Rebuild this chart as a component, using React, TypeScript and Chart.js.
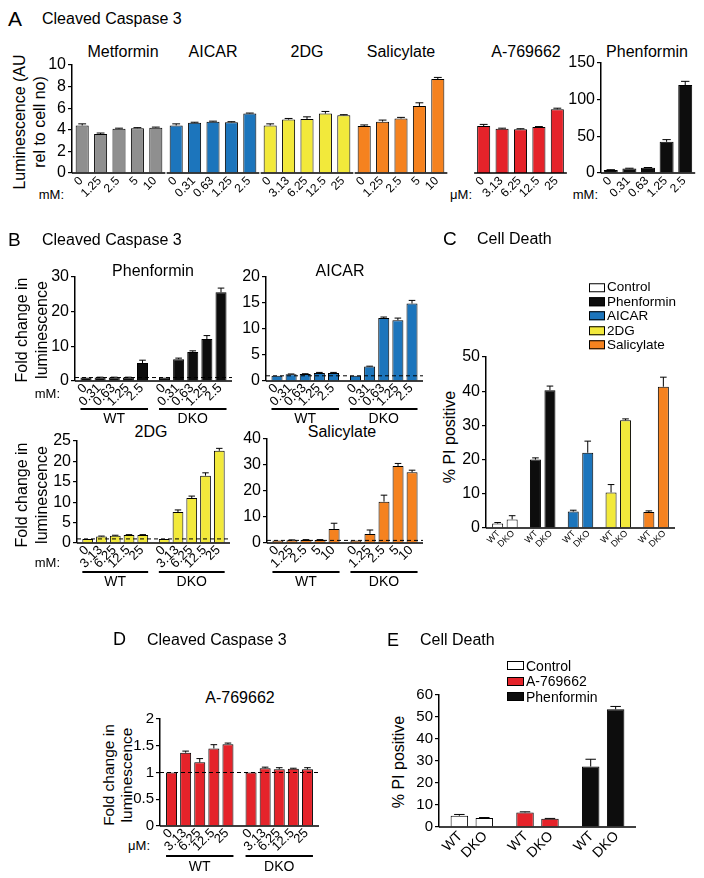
import React, { useEffect, useRef } from 'react';
import { Chart, registerables } from 'chart.js';

Chart.register(...registerables);

const FONT = "'Liberation Sans', Arial, Helvetica, sans-serif";

// ---------- colours (style) ----------
const GRAY = '#8f8f8f';
const BLUE = '#1c75bc';
const YELLOW = '#f2e93b';
const ORANGE = '#f5821f';
const RED = '#e5232a';
const BLACK = '#0d0d0d';
const WHITE = '#ffffff';

// ---------- dose tick labels ----------
const metforminDosesMM = ['0', '1.25', '2.5', '5', '10'];
const aicarDosesMM = ['0', '0.31', '0.63', '1.25', '2.5'];
const twoDGDosesMM = ['0', '3.13', '6.25', '12.5', '25'];
const salicylateDosesMM = ['0', '1.25', '2.5', '5', '10'];
const a769DosesUM = ['0', '3.13', '6.25', '12.5', '25'];
const phenforminDosesMM = ['0', '0.31', '0.63', '1.25', '2.5'];
const genotypes = ['WT', 'DKO'];

// ---------- Panel A: luminescence (AU rel to cell no) ----------
const aMetformin = [4.4, 3.6, 4.1, 4.15, 4.2];
const aMetforminErr = [0.15, 0.1, 0.05, 0.05, 0.05];
const aAicar = [4.4, 4.65, 4.75, 4.7, 5.5];
const aAicarErr = [0.15, 0.05, 0.05, 0.05, 0.05];
const aTwoDG = [4.4, 4.95, 5.0, 5.5, 5.35];
const aTwoDGErr = [0.15, 0.1, 0.2, 0.2, 0.05];
const aSalicylate = [4.35, 4.75, 5.05, 6.2, 8.7];
const aSalicylateErr = [0.1, 0.15, 0.1, 0.3, 0.15];
const aA769 = [4.35, 4.1, 4.05, 4.25, 5.9];
const aA769Err = [0.15, 0.05, 0.05, 0.05, 0.1];
const aPhenformin = [4, 6, 7, 42.5, 120];
const aPhenforminErr = [0.5, 0.5, 0.5, 3, 5];

// ---------- Panel B: fold change in luminescence ----------
const bPhenWT = [1, 1, 1, 1, 5.2];
const bPhenWTErr = [0, 0.1, 0.1, 0.1, 0.8];
const bPhenDKO = [1, 6.3, 8.4, 12.1, 25.6];
const bPhenDKOErr = [0, 0.3, 0.3, 1.0, 1.2];
const bAicarWT = [1, 1.3, 1.35, 1.55, 1.55];
const bAicarWTErr = [0, 0.05, 0.05, 0.1, 0.1];
const bAicarDKO = [1, 2.8, 12.1, 11.7, 14.9];
const bAicarDKOErr = [0, 0.05, 0.2, 0.4, 0.6];
const bTwoDGWT = [1, 1.6, 1.8, 1.95, 1.95];
const bTwoDGWTErr = [0, 0.1, 0.1, 0.1, 0.1];
const bTwoDGDKO = [1, 7.6, 11, 16.5, 22.6];
const bTwoDGDKOErr = [0, 0.5, 0.5, 0.7, 0.6];
const bSalWT = [1, 1.1, 1.2, 1.2, 5.4];
const bSalWTErr = [0, 0.1, 0.1, 0.1, 2.2];
const bSalDKO = [1, 3.5, 15.9, 29.6, 27.2];
const bSalDKOErr = [0, 1.5, 2.5, 1.0, 0.8];

// ---------- Panel C: % PI positive ----------
const cTreatments = ['Control', 'Phenformin', 'AICAR', '2DG', 'Salicylate'];
const cColors = [WHITE, BLACK, BLUE, YELLOW, ORANGE];
const cWT = [1.3, 20, 4.8, 10.4, 4.7];
const cWTErr = [0.3, 0.5, 0.4, 2.3, 0.3];
const cDKO = [2.5, 40.3, 22, 31.5, 41.3];
const cDKOErr = [1.1, 1.2, 3.4, 0.4, 2.8];

// ---------- Panel D: fold change, A-769662 ----------
const dWT = [1, 1.37, 1.19, 1.45, 1.53];
const dWTErr = [0, 0.03, 0.07, 0.07, 0.02];
const dDKO = [1, 1.08, 1.06, 1.07, 1.06];
const dDKOErr = [0, 0.02, 0.03, 0.01, 0.03];

// ---------- Panel E: % PI positive ----------
const eTreatments = ['Control', 'A-769662', 'Phenformin'];
const eColors = [WHITE, RED, BLACK];
const eWT = [5.1, 6.6, 27.5];
const eWTErr = [0.6, 0.3, 3.3];
const eDKO = [4.1, 3.7, 53.5];
const eDKOErr = [0.2, 0.2, 1.3];

type Group = { name: string; values: number[]; errors: number[]; labels: string[]; color: string };
type Spec = {
  plot: { l: number; t: number; r: number; b: number };
  groups: Group[];
  yAxis: boolean;
  yMax: number;
  yStep: number;
  yFont: number;
  mL: number;
  catPct: number;
  barPct: number;
  labelFont: number;
  ldx: number;
  ldy: number;
  axisMode: 'segments' | 'full';
  refLine?: number;
  groupLine?: { dy: number; textDy: number; font: number };
};

const MT = 14;
const MR = 6;
const MB = 62;

function genotypeGroups(wt: number[], wtErr: number[], dko: number[], dkoErr: number[], doses: string[], color: string): Group[] {
  return [
    { name: genotypes[0], values: wt, errors: wtErr, labels: doses, color },
    { name: genotypes[1], values: dko, errors: dkoErr, labels: doses, color },
  ];
}

function treatmentGroups(names: string[], colors: string[], wt: number[], wtErr: number[], dko: number[], dkoErr: number[]): Group[] {
  return names.map((name, i) => ({
    name,
    values: [wt[i], dko[i]],
    errors: [wtErr[i], dkoErr[i]],
    labels: genotypes,
    color: colors[i],
  }));
}

function makePlugin(s: Spec) {
  return {
    id: 'annot',
    afterDatasetsDraw(chart: any) {
      const ctx = chart.ctx;
      const ys = chart.scales.y;
      const area = chart.chartArea;
      ctx.save();
      ctx.strokeStyle = '#000';
      ctx.lineWidth = 1;
      chart.data.datasets.forEach((_ds: any, di: number) => {
        const meta = chart.getDatasetMeta(di);
        meta.data.forEach((bar: any, i: number) => {
          const e = s.groups[i].errors[di];
          if (!e) return;
          const yTop = ys.getPixelForValue(s.groups[i].values[di] + e);
          const half = (bar.width * 0.6) / 2;
          ctx.beginPath();
          ctx.moveTo(bar.x, bar.y);
          ctx.lineTo(bar.x, yTop);
          ctx.moveTo(bar.x - half, yTop);
          ctx.lineTo(bar.x + half, yTop);
          ctx.stroke();
        });
      });
      if (s.refLine != null) {
        const yy = ys.getPixelForValue(s.refLine);
        ctx.setLineDash([4, 3]);
        ctx.beginPath();
        ctx.moveTo(area.left, yy);
        ctx.lineTo(area.right, yy);
        ctx.stroke();
        ctx.setLineDash([]);
      }
      ctx.restore();
    },
    afterDraw(chart: any) {
      const ctx = chart.ctx;
      const area = chart.chartArea;
      const nSets = chart.data.datasets.length;
      ctx.save();
      ctx.strokeStyle = '#000';
      ctx.fillStyle = '#000';
      ctx.lineWidth = 1.5;
      if (s.axisMode === 'full') {
        ctx.beginPath();
        ctx.moveTo(area.left, area.bottom);
        ctx.lineTo(area.right, area.bottom);
        ctx.stroke();
      }
      s.groups.forEach((g, i) => {
        const first = chart.getDatasetMeta(0).data[i];
        const last = chart.getDatasetMeta(nSets - 1).data[i];
        const gl = first.x - first.width / 2;
        const gr = last.x + last.width / 2;
        if (s.axisMode === 'segments') {
          const sl = i === 0 && s.yAxis ? area.left : gl - 3;
          ctx.beginPath();
          ctx.moveTo(sl, area.bottom);
          ctx.lineTo(gr + 3, area.bottom);
          ctx.stroke();
        }
        if (s.groupLine) {
          ctx.lineWidth = 2;
          ctx.beginPath();
          ctx.moveTo(gl, area.bottom + s.groupLine.dy);
          ctx.lineTo(gr, area.bottom + s.groupLine.dy);
          ctx.stroke();
          ctx.lineWidth = 1.5;
          ctx.font = `${s.groupLine.font}px ${FONT}`;
          ctx.textAlign = 'center';
          ctx.textBaseline = 'middle';
          ctx.fillText(g.name, (gl + gr) / 2, area.bottom + s.groupLine.textDy);
        }
      });
      ctx.font = `${s.labelFont}px ${FONT}`;
      ctx.textAlign = 'right';
      ctx.textBaseline = 'middle';
      for (let di = 0; di < nSets; di++) {
        const meta = chart.getDatasetMeta(di);
        meta.data.forEach((bar: any, i: number) => {
          ctx.save();
          ctx.translate(bar.x + s.ldx, area.bottom + s.ldy);
          ctx.rotate(-Math.PI / 4);
          ctx.fillText(s.groups[i].labels[di], 0, 0);
          ctx.restore();
        });
      }
      ctx.restore();
    },
  };
}

function buildConfig(s: Spec): any {
  const n = s.groups[0].values.length;
  const datasets = Array.from({ length: n }, (_, j) => ({
    data: s.groups.map((g) => g.values[j]),
    backgroundColor: s.groups.map((g) => g.color),
    borderColor: '#000',
    borderWidth: 1,
    categoryPercentage: s.catPct,
    barPercentage: s.barPct,
  }));
  const yScale: any = {
    display: s.yAxis,
    min: 0,
    max: s.yMax,
    ticks: {
      stepSize: s.yStep,
      autoSkip: false,
      color: '#000',
      font: { family: FONT, size: s.yFont },
      padding: 2,
      callback: (v: any) => `${v}`,
    },
    grid: { drawOnChartArea: false, drawTicks: true, tickLength: 4, color: '#000', lineWidth: 1.2 },
    border: { display: true, color: '#000', width: 1.5 },
  };
  if (s.yAxis) {
    yScale.afterFit = (sc: any) => {
      sc.width = s.mL;
    };
  }
  return {
    type: 'bar',
    data: { labels: s.groups.map((g) => g.name), datasets },
    options: {
      responsive: false,
      animation: false,
      devicePixelRatio: 1,
      layout: { padding: { left: s.yAxis ? 0 : s.mL, right: MR, top: MT, bottom: MB } },
      plugins: { legend: { display: false }, tooltip: { enabled: false }, title: { display: false } },
      scales: {
        x: { display: false, grid: { display: false } },
        y: yScale,
      },
    },
    plugins: [makePlugin(s)],
  };
}

function BarChart({ spec }: { spec: Spec }) {
  const ref = useRef<HTMLCanvasElement>(null);
  useEffect(() => {
    const chart = new Chart(ref.current as HTMLCanvasElement, buildConfig(spec));
    return () => chart.destroy();
  }, []);
  const { l, t, r, b } = spec.plot;
  const left = l - spec.mL;
  const top = t - MT;
  const w = Math.round(r - l + spec.mL + MR);
  const h = Math.round(b - t + MT + MB);
  return (
    <canvas
      ref={ref}
      width={w}
      height={h}
      style={{ position: 'absolute', left, top, width: w, height: h }}
    />
  );
}

function Txt({ x, y, size, children, align = 'left' }: { x: number; y: number; size: number; children: any; align?: string }) {
  const transform =
    align === 'center' ? 'translate(-50%,-50%)' : align === 'right' ? 'translate(-100%,-50%)' : 'translateY(-50%)';
  return (
    <div style={{ position: 'absolute', left: x, top: y, fontSize: size, lineHeight: 1, whiteSpace: 'nowrap', transform }}>
      {children}
    </div>
  );
}

function VTitle({ x, y, size, lines, lh }: { x: number; y: number; size: number; lines: string[]; lh: number }) {
  return (
    <div
      style={{
        position: 'absolute',
        left: x,
        top: y,
        transform: 'translate(-50%,-50%) rotate(-90deg)',
        fontSize: size,
        lineHeight: `${lh}px`,
        textAlign: 'center',
        whiteSpace: 'nowrap',
      }}
    >
      {lines.map((s, i) => (
        <div key={i}>{s}</div>
      ))}
    </div>
  );
}

function Legend({ x, y0, dy, names, colors, boxW, boxH, size }: { x: number; y0: number; dy: number; names: string[]; colors: string[]; boxW: number; boxH: number; size: number }) {
  return (
    <>
      {names.map((name, i) => (
        <div
          key={name}
          style={{
            position: 'absolute',
            left: x,
            top: y0 + i * dy,
            transform: 'translateY(-50%)',
            display: 'flex',
            alignItems: 'center',
            fontSize: size,
            lineHeight: 1,
            whiteSpace: 'nowrap',
          }}
        >
          <span
            style={{
              display: 'inline-block',
              width: boxW,
              height: boxH,
              background: colors[i],
              border: '1px solid #000',
              boxSizing: 'border-box',
              marginRight: 2,
            }}
          />
          {name}
        </div>
      ))}
    </>
  );
}

const specA1: Spec = {
  plot: { l: 72, t: 65, r: 448, b: 173 },
  groups: [
    { name: 'Metformin', values: aMetformin, errors: aMetforminErr, labels: metforminDosesMM, color: GRAY },
    { name: 'AICAR', values: aAicar, errors: aAicarErr, labels: aicarDosesMM, color: BLUE },
    { name: '2DG', values: aTwoDG, errors: aTwoDGErr, labels: twoDGDosesMM, color: YELLOW },
    { name: 'Salicylate', values: aSalicylate, errors: aSalicylateErr, labels: salicylateDosesMM, color: ORANGE },
  ],
  yAxis: true, yMax: 10, yStep: 2, yFont: 16, mL: 60,
  catPct: 0.979, barPct: 0.71,
  labelFont: 12, ldx: -1, ldy: 6, axisMode: 'segments',
};
const specA2: Spec = {
  plot: { l: 474, t: 65, r: 567, b: 173 },
  groups: [{ name: 'A-769662', values: aA769, errors: aA769Err, labels: a769DosesUM, color: RED }],
  yAxis: false, yMax: 10, yStep: 2, yFont: 16, mL: 10,
  catPct: 0.99, barPct: 0.71,
  labelFont: 12, ldx: -1, ldy: 6, axisMode: 'segments',
};
const specA3: Spec = {
  plot: { l: 601, t: 63, r: 695, b: 173 },
  groups: [{ name: 'Phenformin', values: aPhenformin, errors: aPhenforminErr, labels: phenforminDosesMM, color: BLACK }],
  yAxis: true, yMax: 150, yStep: 50, yFont: 16, mL: 50,
  catPct: 0.99, barPct: 0.75,
  labelFont: 12, ldx: -1, ldy: 6, axisMode: 'segments',
};
const bCommon = {
  yAxis: true, yFont: 16, mL: 50, catPct: 0.9, barPct: 0.78,
  labelFont: 13, ldx: -1, ldy: 5, axisMode: 'full' as const, refLine: 1,
};
const specB1: Spec = {
  ...bCommon,
  plot: { l: 75, t: 277, r: 232, b: 381 },
  groups: genotypeGroups(bPhenWT, bPhenWTErr, bPhenDKO, bPhenDKOErr, phenforminDosesMM, BLACK),
  yMax: 30, yStep: 10,
  groupLine: { dy: 28, textDy: 38, font: 14 },
};
const specB2: Spec = {
  ...bCommon,
  plot: { l: 266, t: 277, r: 423, b: 381 },
  groups: genotypeGroups(bAicarWT, bAicarWTErr, bAicarDKO, bAicarDKOErr, aicarDosesMM, BLUE),
  yMax: 20, yStep: 5,
  groupLine: { dy: 28, textDy: 38, font: 14 },
};
const specB3: Spec = {
  ...bCommon,
  plot: { l: 77, t: 441, r: 230, b: 543 },
  groups: genotypeGroups(bTwoDGWT, bTwoDGWTErr, bTwoDGDKO, bTwoDGDKOErr, twoDGDosesMM, YELLOW),
  yMax: 25, yStep: 5,
  groupLine: { dy: 29, textDy: 39.5, font: 14 },
};
const specB4: Spec = {
  ...bCommon,
  plot: { l: 267, t: 439, r: 423, b: 543 },
  groups: genotypeGroups(bSalWT, bSalWTErr, bSalDKO, bSalDKOErr, salicylateDosesMM, ORANGE),
  yMax: 40, yStep: 10,
  groupLine: { dy: 29, textDy: 39.5, font: 14 },
};
const specC: Spec = {
  plot: { l: 486, t: 356.7, r: 675, b: 527.3 },
  groups: treatmentGroups(cTreatments, cColors, cWT, cWTErr, cDKO, cDKOErr),
  yAxis: true, yMax: 50, yStep: 10, yFont: 16, mL: 50,
  catPct: 0.767, barPct: 0.76,
  labelFont: 9, ldx: 1, ldy: 4, axisMode: 'full',
};
const specD: Spec = {
  plot: { l: 160, t: 719, r: 319, b: 826 },
  groups: genotypeGroups(dWT, dWTErr, dDKO, dDKOErr, a769DosesUM, RED),
  yAxis: true, yMax: 2, yStep: 0.5, yFont: 15, mL: 50,
  catPct: 0.887, barPct: 0.78,
  labelFont: 13, ldx: -1, ldy: 5, axisMode: 'full', refLine: 1,
  groupLine: { dy: 30, textDy: 41, font: 14 },
};
const specE: Spec = {
  plot: { l: 439, t: 695, r: 636, b: 827.3 },
  groups: treatmentGroups(eTreatments, eColors, eWT, eWTErr, eDKO, eDKOErr),
  yAxis: true, yMax: 60, yStep: 10, yFont: 15, mL: 50,
  catPct: 0.76, barPct: 0.7,
  labelFont: 14, ldx: 1, ldy: 7, axisMode: 'full',
};

export default function App() {
  return (
    <div
      style={{
        position: 'absolute',
        left: 0,
        top: 0,
        width: 704,
        height: 878,
        background: '#fff',
        color: '#000',
        fontFamily: FONT,
        overflow: 'hidden',
      }}
    >
      {/* Panel A */}
      <Txt x={8} y={18} size={21}>A</Txt>
      <Txt x={42} y={19} size={16}>Cleaved Caspase 3</Txt>
      <Txt x={123} y={52} size={16} align="center">Metformin</Txt>
      <Txt x={213} y={52} size={16} align="center">AICAR</Txt>
      <Txt x={307} y={52} size={16} align="center">2DG</Txt>
      <Txt x={401} y={52} size={16} align="center">Salicylate</Txt>
      <Txt x={526} y={52} size={16} align="center">A-769662</Txt>
      <Txt x={647} y={52} size={16} align="center">Phenformin</Txt>
      <VTitle x={30} y={122} size={16} lh={20} lines={['Luminescence (AU', 'rel to cell no)']} />
      <Txt x={64} y={194} size={13} align="right">mM:</Txt>
      <Txt x={472} y={194} size={13} align="right">μM:</Txt>
      <Txt x={598} y={194} size={13} align="right">mM:</Txt>
      <BarChart spec={specA1} />
      <BarChart spec={specA2} />
      <BarChart spec={specA3} />

      {/* Panel B */}
      <Txt x={8} y={239} size={19}>B</Txt>
      <Txt x={42} y={240} size={16}>Cleaved Caspase 3</Txt>
      <Txt x={153} y={271} size={16} align="center">Phenformin</Txt>
      <Txt x={340} y={271} size={16} align="center">AICAR</Txt>
      <Txt x={151} y={432} size={16} align="center">2DG</Txt>
      <Txt x={342} y={432} size={16} align="center">Salicylate</Txt>
      <VTitle x={32} y={330} size={16} lh={20} lines={['Fold change in', 'luminescence']} />
      <VTitle x={32} y={495} size={16} lh={20} lines={['Fold change in', 'luminescence']} />
      <Txt x={60} y={393} size={13} align="right">mM:</Txt>
      <Txt x={60} y={562} size={13} align="right">mM:</Txt>
      <BarChart spec={specB1} />
      <BarChart spec={specB2} />
      <BarChart spec={specB3} />
      <BarChart spec={specB4} />

      {/* Panel C */}
      <Txt x={443} y={238} size={19}>C</Txt>
      <Txt x={477} y={239} size={16}>Cell Death</Txt>
      <Legend x={589} y0={287.3} dy={14.4} names={cTreatments} colors={cColors} boxW={16} boxH={9} size={13.5} />
      <VTitle x={450} y={437} size={16} lh={20} lines={['% PI positive']} />
      <BarChart spec={specC} />

      {/* Panel D */}
      <Txt x={113} y={639} size={18}>D</Txt>
      <Txt x={147} y={640} size={16}>Cleaved Caspase 3</Txt>
      <Txt x={240} y={698} size={16} align="center">A-769662</Txt>
      <VTitle x={118} y={775} size={15.5} lh={18} lines={['Fold change in', 'luminescence']} />
      <Txt x={150} y={845} size={13} align="right">μM:</Txt>
      <BarChart spec={specD} />

      {/* Panel E */}
      <Txt x={387} y={640} size={18}>E</Txt>
      <Txt x={420} y={640} size={16}>Cell Death</Txt>
      <Legend x={507} y0={665.7} dy={15.5} names={eTreatments} colors={eColors} boxW={17} boxH={9} size={14} />
      <VTitle x={399} y={762} size={16} lh={20} lines={['% PI positive']} />
      <BarChart spec={specE} />
    </div>
  );
}
